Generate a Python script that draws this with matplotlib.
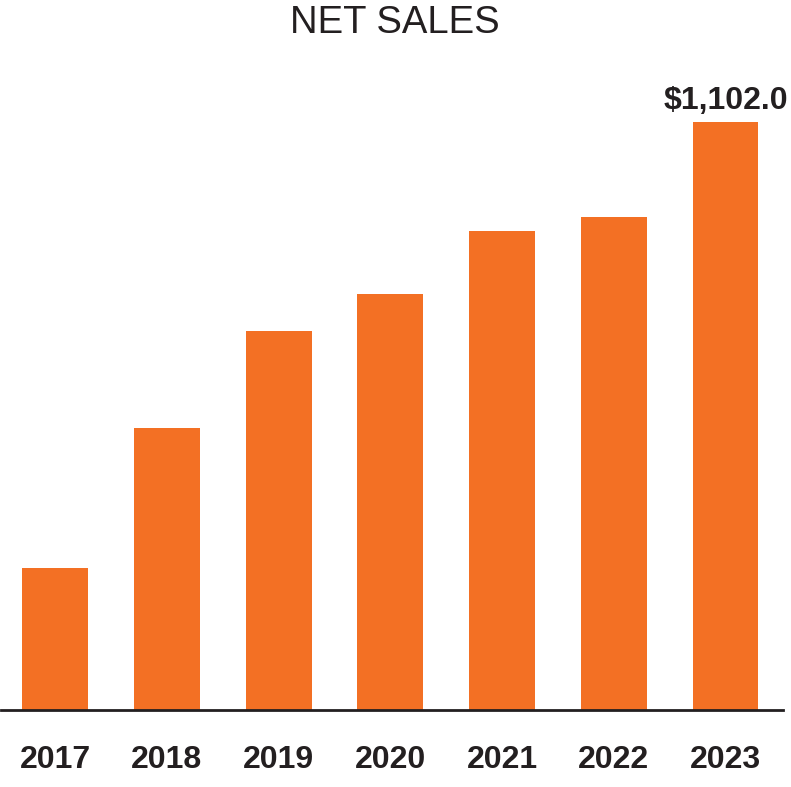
import matplotlib.pyplot as plt
import numpy as np

plt.rcParams['font.family'] = ['Liberation Sans', 'DejaVu Sans']

years = ['2017', '2018', '2019', '2020', '2021', '2022', '2023']
net_sales = [266.0, 528.0, 710.0, 780.0, 898.0, 924.0, 1102.0]

orange = '#F37024'
dark = '#231F20'

fig = plt.figure(figsize=(7.91, 7.87), dpi=100)
# axes spans x 0..782 px, baseline at y=710 px from top
ax = fig.add_axes([0.5 / 791, 77 / 787, 782 / 791, 650 / 787])

x = np.arange(len(years))
ax.bar(x, net_sales, width=0.59, color=orange)
ax.set_xlim(-0.49, 6.51)
ax.set_ylim(0, 1102.0 * 650 / 588)

for s in ['top', 'right', 'left']:
    ax.spines[s].set_visible(False)
ax.spines['bottom'].set_color(dark)
ax.spines['bottom'].set_linewidth(2)
ax.set_yticks([])
ax.set_xticks(x)
ax.set_xticklabels(years, fontsize=23, fontweight='bold', color=dark)
ax.tick_params(axis='x', length=0, pad=25)

ax.text(x[-1], net_sales[-1] + 12, '$1,102.0', ha='center', va='bottom',
        fontsize=23, fontweight='bold', color=dark)

fig.text(0.4995, 1 - 33 / 787, 'NET SALES', ha='center', va='baseline',
         fontsize=27.5, color=dark)

fig.savefig('out.png', dpi=100)
